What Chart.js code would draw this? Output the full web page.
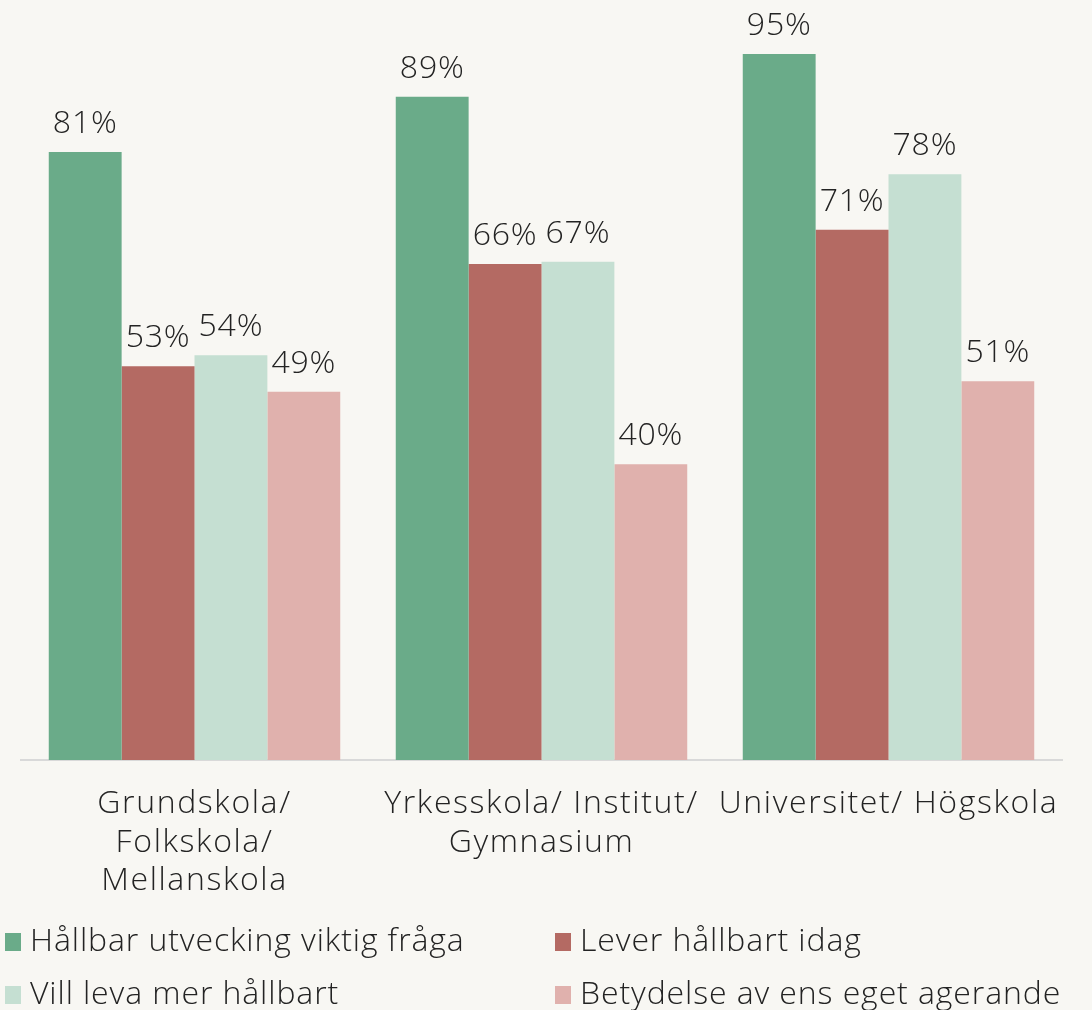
<!DOCTYPE html>
<html>
<head>
<meta charset="utf-8">
<script src="https://cdn.jsdelivr.net/npm/chart.js@4.4.1/dist/chart.umd.min.js"></script>
<style>
  html, body { margin: 0; padding: 0; background: #f8f7f3; }
  #wrap { width: 1092px; height: 1010px; position: relative; }
</style>
</head>
<body>
<div id="wrap"><canvas id="c" width="1092" height="1010"></canvas></div>
<script>
const categories = [
  ["Grundskola/", "Folkskola/", "Mellanskola"],
  ["Yrkesskola/ Institut/", "Gymnasium"],
  ["Universitet/ Högskola"]
];
const seriesNames = [
  "Hållbar utvecking viktig fråga",
  "Lever hållbart idag",
  "Vill leva mer hållbart",
  "Betydelse av ens eget agerande"
];
const hallbarViktig = [81.4, 88.8, 94.5];
const leverHallbart = [52.7, 66.4, 71.0];
const villLevaMer = [54.2, 66.7, 78.4];
const betydelseAgerande = [49.3, 39.6, 50.7];
const colors = ["#6aab89", "#b46a63", "#c5dfd2", "#e0b1ad"];

const FONT = "'Open Sans', 'DejaVu Sans', sans-serif";
const TEXT = "#232323";
const TICK_SPACING = '1.6px';

const bgPlugin = {
  id: 'bg',
  beforeLayout(chart) { chart.ctx.letterSpacing = TICK_SPACING; },
  beforeDraw(chart) {
    const ctx = chart.ctx;
    ctx.letterSpacing = TICK_SPACING;
    ctx.save();
    ctx.fillStyle = '#f8f7f3';
    ctx.fillRect(0, 0, chart.width, chart.height);
    ctx.restore();
  }
};

const valueLabels = {
  id: 'valueLabels',
  afterDatasetsDraw(chart) {
    const ctx = chart.ctx;
    ctx.save();
    ctx.letterSpacing = '0.8px';
    ctx.font = `300 32px ${FONT}`;
    ctx.fillStyle = TEXT;
    ctx.textAlign = 'center';
    ctx.textBaseline = 'alphabetic';
    chart.data.datasets.forEach((ds, i) => {
      chart.getDatasetMeta(i).data.forEach((bar, j) => {
        ctx.fillText(Math.round(ds.data[j]) + '%', bar.x, bar.y - 19);
      });
    });
    ctx.restore();
  }
};

const legendPlugin = {
  id: 'gridLegend',
  afterDraw(chart) {
    const ctx = chart.ctx;
    ctx.save();
    ctx.letterSpacing = '0.9px';
    ctx.font = `300 32px ${FONT}`;
    ctx.fillStyle = TEXT;
    ctx.textBaseline = 'middle';
    const cols = [5, 555];
    const rows = [942, 995];
    chart.data.datasets.forEach((ds, i) => {
      const x = cols[i % 2], y = rows[Math.floor(i / 2)];
      ctx.fillStyle = ds.backgroundColor;
      ctx.fillRect(x, y - 9, 16, 18);
      ctx.fillStyle = TEXT;
      ctx.textAlign = 'left';
      ctx.fillText(ds.label, x + 25, y);
    });
    ctx.restore();
  }
};

const seriesData = [hallbarViktig, leverHallbart, villLevaMer, betydelseAgerande];

new Chart(document.getElementById('c'), {
  type: 'bar',
  data: {
    labels: categories,
    datasets: seriesNames.map((n, i) => ({
      label: n,
      data: seriesData[i],
      backgroundColor: colors[i],
      borderWidth: 0,
      categoryPercentage: 0.84,
      barPercentage: 1.0
    }))
  },
  options: {
    responsive: false,
    animation: false,
    devicePixelRatio: 1,
    layout: { padding: { left: 21, right: 30, top: 13, bottom: 0 } },
    plugins: {
      legend: { display: false },
      tooltip: { enabled: false }
    },
    scales: {
      y: {
        display: false,
        min: 0,
        max: 100
      },
      x: {
        grid: { display: false, drawTicks: false },
        border: { display: true, color: '#d9d9d9', width: 2 },
        ticks: {
          color: TEXT,
          font: { family: FONT, size: 32, weight: 300, lineHeight: 1.2 },
          padding: 25,
          maxRotation: 0,
          autoSkip: false
        },
        afterFit(scale) { scale.height = 250; }
      }
    }
  },
  plugins: [bgPlugin, valueLabels, legendPlugin]
});
</script>
</body>
</html>
